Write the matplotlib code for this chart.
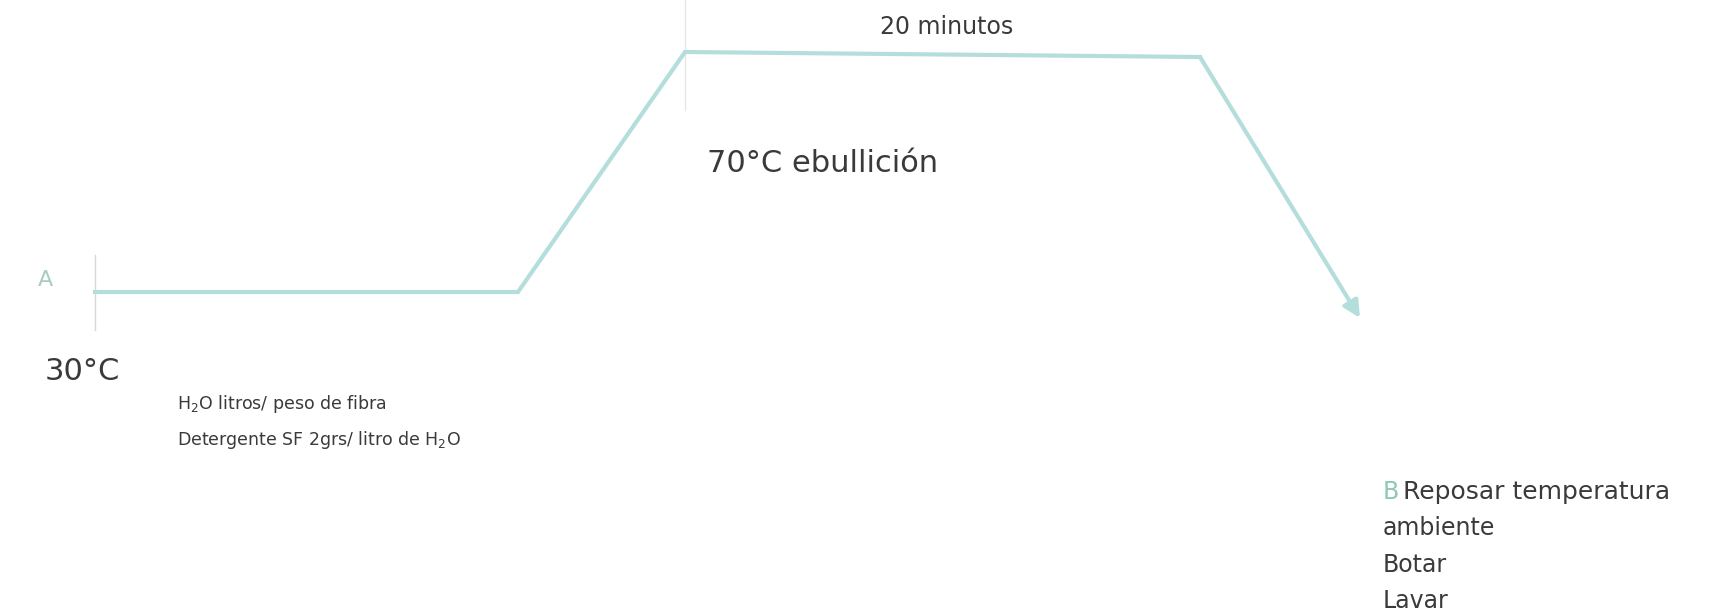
import numpy as np
import matplotlib.pyplot as plt

# process path (image pixel coords: x to the right, y downward)
path_x = [95, 518, 685, 1200, 1360]
path_y = [292, 292, 52, 57, 318]

labels_gray = ["30°C", "H$_{\\mathregular{2}}$O litros/ peso de fibra",
               "Detergente SF 2grs/ litro de H$_{\\mathregular{2}}$O",
               "20 minutos", "70°C ebullición",
               "Reposar temperatura", "ambiente", "Botar", "Lavar"]
labels_x = [45, 177, 177, 880, 707, 1403, 1383, 1383, 1383]
labels_y = [372, 404, 440, 27, 163, 492, 528, 565, 601]
labels_size = [22, 12.5, 12.5, 17, 22, 18, 17, 17, 17]

line_col = "#b4dedb"
text_col = "#3a3a3a"

plt.rcParams['font.family'] = ['DejaVu Sans']
fig = plt.figure(figsize=(17.32, 6.16), dpi=100)
ax = fig.add_axes([0, 0, 1, 1])
ax.set_xlim(0, 1732)
ax.set_ylim(616, 0)
ax.axis('off')

# faint guide lines
ax.plot([95, 95], [255, 330], color="#d8d8d8", lw=1)
ax.plot([685, 685], [0, 110], color="#e6e6e6", lw=1)

ax.plot(path_x[:-1], path_y[:-1], color=line_col, lw=3, solid_joinstyle='miter')
ax.annotate("", xy=(path_x[-1], path_y[-1]), xytext=(path_x[-2], path_y[-2]),
            arrowprops=dict(arrowstyle="-|>", color=line_col, lw=3,
                            mutation_scale=25, shrinkA=0, shrinkB=0))

ax.text(38, 280, "A", color="#a8ccc4", fontsize=16, va='center', ha='left')
ax.text(1383, 492, "B", color="#8fc9b4", fontsize=17, va='center', ha='left')

for s, x, y, fs in zip(labels_gray, labels_x, labels_y, labels_size):
    ax.text(x, y, s, color=text_col, fontsize=fs, va='center', ha='left')

fig.savefig("out.png", dpi=100, facecolor='white')
